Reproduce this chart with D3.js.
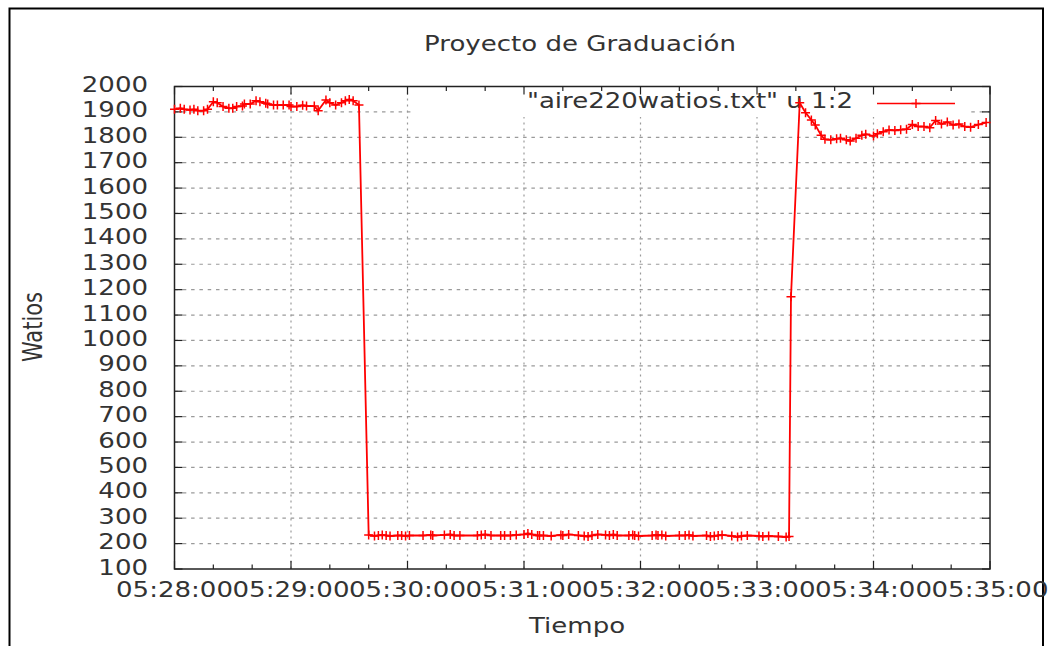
<!DOCTYPE html>
<html>
<head>
<meta charset="utf-8">
<script src="https://cdn.jsdelivr.net/npm/d3@7"></script>
<style>
  html, body { margin: 0; padding: 0; background: #fff; }
  svg { display: block; }
  text { font-family: "DejaVu Sans", sans-serif; fill: #333; }
</style>
</head>
<body>
<svg id="chart" width="1053" height="646"></svg>
<script>
// ---- Chart text ----
const chartTitle = "Proyecto de Graduación";
const xTitle = "Tiempo";
const yTitle = "Watios";
const seriesName = "\"aire220watios.txt\" u 1:2";

// ---- Axis ticks ----
const startClock = "05:28:00";
const xTickLabels = ["05:28:00", "05:29:00", "05:30:00", "05:31:00",
                     "05:32:00", "05:33:00", "05:34:00", "05:35:00"];
const yTickValues = [100, 200, 300, 400, 500, 600, 700, 800, 900, 1000,
                     1100, 1200, 1300, 1400, 1500, 1600, 1700, 1800, 1900, 2000];

// ---- Samples: seconds after 05:28:00 and measured power (W) ----
const seconds = [
  0, 3, 5, 8, 10, 12, 15, 17, 20, 22, 25, 28, 30, 32, 35, 36, 39, 42, 44, 47,
  48, 51, 53, 56, 59, 60, 63, 66, 68, 72, 74, 78, 80, 83, 86, 88, 90, 92, 95,
  100, 103, 105, 107, 109, 111, 115, 117, 119, 121, 128, 132, 133, 139, 142, 144,
  147, 156, 158, 160, 163, 168, 170, 173, 176, 180, 182, 184, 187, 188, 190, 194,
  199, 200, 203, 208, 211, 213, 215, 218, 222, 224, 226, 228, 234, 236, 237, 239,
  246, 248, 249, 251, 253, 260, 263, 265, 267, 274, 276, 278, 280, 282, 287, 290,
  292, 295, 301, 303, 306, 311, 315, 316.5,
  317.5,
  322, 325, 328, 330, 333, 335, 338, 341, 343, 346, 348, 351, 354, 356, 360, 362,
  365, 368, 371, 374, 377, 380, 383, 386, 389, 392, 395, 398, 401, 404, 407, 410,
  414, 418
];
const watts = [
  1910, 1914, 1910, 1907, 1910, 1905, 1905, 1910, 1940, 1936, 1921, 1914, 1914, 1921, 1923, 1931, 1931, 1944, 1940, 1934,
  1931, 1927, 1927, 1927, 1927, 1921, 1921, 1926, 1923, 1923, 1905, 1947, 1936, 1927, 1936, 1944, 1949, 1944, 1927,
  234, 230, 232, 234, 232, 230, 232, 232, 230, 232, 232, 234, 232, 234, 236, 232,
  232, 232, 234, 236, 232, 232, 232, 232, 234, 236, 240, 236, 232, 232, 232, 230,
  234, 232, 236, 232, 230, 228, 232, 236, 234, 232, 236, 232, 232, 234, 232, 230,
  232, 234, 232, 234, 230, 232, 232, 234, 230, 232, 228, 230, 232, 234, 230, 226,
  230, 232, 230, 228, 230, 228, 226, 228,
  1172,
  1936, 1897, 1868, 1848, 1808, 1792, 1790, 1794, 1796, 1790, 1785, 1796, 1808, 1812, 1805, 1814,
  1822, 1829, 1827, 1830, 1832, 1850, 1842, 1842, 1838, 1866, 1852, 1860, 1848, 1852, 1842, 1840,
  1850, 1858
];

// ---- Layout ----
const W = 1053, H = 646;
const plot = { left: 174.5, right: 990, top: 86.5, bottom: 569 };
const fontSize = 21;
const stretch = 1.24;          // wide glyph rendering of the terminal font
const red = "#ff0000";

const parseClock = d3.timeParse("%H:%M:%S");
const baseTime = parseClock(startClock);
const points = seconds.map((s, i) => ({ t: new Date(baseTime.getTime() + s * 1000), v: watts[i] }));
const xTicks = xTickLabels.map(parseClock);

const x = d3.scaleTime()
  .domain([xTicks[0], xTicks[xTicks.length - 1]])
  .range([plot.left, plot.right]);
const y = d3.scaleLinear()
  .domain([d3.min(yTickValues), d3.max(yTickValues)])
  .range([plot.bottom, plot.top]);

const svg = d3.select("#chart");

function label(g, px, py, str, anchor) {
  return g.append("text")
    .attr("transform", `translate(${px},${py}) scale(${stretch},1)`)
    .attr("text-anchor", anchor)
    .style("font-size", fontSize + "px")
    .text(str);
}

// Outer frame (bottom edge falls outside the canvas)
svg.append("rect")
  .attr("x", 9.5).attr("y", 8.5)
  .attr("width", 1033.5).attr("height", H)
  .attr("fill", "none").attr("stroke", "#000").attr("stroke-width", 2);

// Grid
const grid = svg.append("g");
grid.selectAll("line.h")
  .data(yTickValues.filter(v => v > 100 && v < 2000))
  .join("line")
  .attr("x1", plot.left).attr("x2", plot.right)
  .attr("y1", d => y(d)).attr("y2", d => y(d))
  .attr("stroke", "#9a9a9a").attr("stroke-width", 1.2)
  .attr("stroke-dasharray", "3.5,4.8");
grid.selectAll("line.v")
  .data(xTicks.slice(1, -1))
  .join("line")
  .attr("x1", d => x(d)).attr("x2", d => x(d))
  .attr("y1", plot.top).attr("y2", plot.bottom)
  .attr("stroke", "#9a9a9a").attr("stroke-width", 1.2)
  .attr("stroke-dasharray", "2,4");

// Key background hides the grid behind the legend
svg.append("rect")
  .attr("x", 411).attr("y", plot.top + 1)
  .attr("width", 557).attr("height", 29.5)
  .attr("fill", "#fff");

// Ticks (inward, mirrored on opposite sides)
const ticks = svg.append("g").attr("stroke", "#222").attr("stroke-width", 1.2);
const minorTicks = d3.timeSecond.every(20).range(xTicks[0], d3.timeSecond.offset(xTicks[xTicks.length - 1], 1));
minorTicks.forEach(d => {
  const major = d.getSeconds() === 0;
  const len = major ? 8 : 4.5;
  ticks.append("line").attr("x1", x(d)).attr("x2", x(d)).attr("y1", plot.bottom).attr("y2", plot.bottom - len);
  ticks.append("line").attr("x1", x(d)).attr("x2", x(d)).attr("y1", plot.top).attr("y2", plot.top + len);
});
yTickValues.forEach(v => {
  ticks.append("line").attr("x1", plot.left).attr("x2", plot.left + 8).attr("y1", y(v)).attr("y2", y(v));
  ticks.append("line").attr("x1", plot.right).attr("x2", plot.right - 8).attr("y1", y(v)).attr("y2", y(v));
});

// Plot border
svg.append("rect")
  .attr("x", plot.left).attr("y", plot.top)
  .attr("width", plot.right - plot.left).attr("height", plot.bottom - plot.top)
  .attr("fill", "none").attr("stroke", "#222").attr("stroke-width", 1.5);

// Tick labels
const labels = svg.append("g");
yTickValues.forEach(v => label(labels, 148, y(v) + 5.5, String(v), "end"));
const fmt = d3.timeFormat("%H:%M:%S");
xTicks.forEach(d => label(labels, x(d), 597, fmt(d), "middle"));

// Titles
label(svg, 580, 51, chartTitle, "middle");
label(svg, 577, 633, xTitle, "middle");
svg.append("text")
  .attr("transform", `translate(42,327) rotate(-90) scale(1,${stretch})`)
  .attr("text-anchor", "middle")
  .style("font-size", fontSize + "px")
  .text(yTitle);

// Legend text
label(svg, 853, 108, seriesName, "end");

// Series line and point markers
const line = d3.line().x(d => x(d.t)).y(d => y(d.v));
svg.append("path")
  .datum(points)
  .attr("d", line)
  .attr("fill", "none")
  .attr("stroke", red)
  .attr("stroke-width", 1.8);

const arm = 4.5;
svg.append("g").selectAll("path")
  .data(points)
  .join("path")
  .attr("d", d => {
    const cx = x(d.t), cy = y(d.v);
    return `M${cx - arm},${cy}h${2 * arm}M${cx},${cy - arm}v${2 * arm}`;
  })
  .attr("stroke", red)
  .attr("stroke-width", 1.5)
  .attr("fill", "none");

// Legend sample
const key = svg.append("g").attr("stroke", red).attr("fill", "none");
key.append("line").attr("x1", 877).attr("x2", 955).attr("y1", 103.5).attr("y2", 103.5).attr("stroke-width", 1.6);
key.append("path").attr("d", `M${916 - arm},103.5h${2 * arm}M916,${103.5 - arm}v${2 * arm}`).attr("stroke-width", 1.4);
</script>
</body>
</html>
